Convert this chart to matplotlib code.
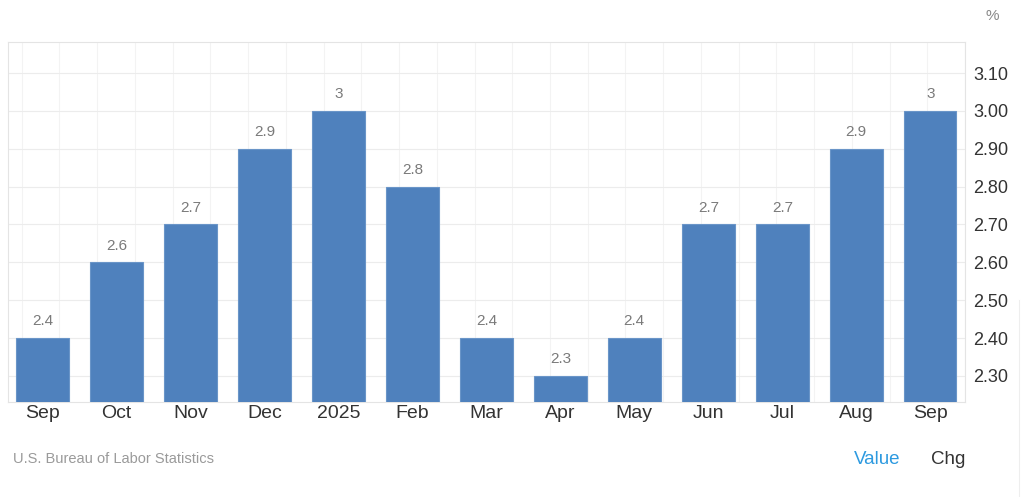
import matplotlib.pyplot as plt
import numpy as np

plt.rcParams['font.family'] = ['Liberation Sans', 'DejaVu Sans']

# data
months = ["Sep", "Oct", "Nov", "Dec", "2025", "Feb", "Mar", "Apr", "May", "Jun", "Jul", "Aug", "Sep"]
values = [2.4, 2.6, 2.7, 2.9, 3, 2.8, 2.4, 2.3, 2.4, 2.7, 2.7, 2.9, 3]
value_labels = ["2.4", "2.6", "2.7", "2.9", "3", "2.8", "2.4", "2.3", "2.4", "2.7", "2.7", "2.9", "3"]
yticks = [2.30, 2.40, 2.50, 2.60, 2.70, 2.80, 2.90, 3.00, 3.10]

bar_color = "#4f81bd"
grid_color = "#ececec"

fig = plt.figure(figsize=(10.24, 4.97), dpi=100)
ax = fig.add_axes([8 / 1024, 95 / 497, 957 / 1024, 360 / 497])

x = np.arange(len(months))
bars = ax.bar(x, values, width=0.71, color=bar_color, edgecolor="#6a95c8",
              linewidth=0.8, zorder=3)

for b, lab in zip(bars, value_labels):
    ax.annotate(lab, (b.get_x() + b.get_width() / 2, b.get_height()),
                xytext=(0, 7), textcoords="offset points",
                ha="center", va="bottom", fontsize=11, color="#7a7a7a")

ax.set_ylim(2.231, 3.182)
ax.set_xlim(-0.466, 12.46)

ax.set_yticks(yticks)
ax.set_yticklabels([f"{t:.2f}" for t in yticks])
ax.yaxis.tick_right()
ax.tick_params(axis="y", length=0, pad=6, labelsize=13, labelcolor="#333333")
ax.set_xticks(x)
ax.set_xticklabels(months)
ax.tick_params(axis="x", length=0, pad=2, labelsize=14, labelcolor="#333333")

# faint grid
ax.grid(axis="y", color=grid_color, linewidth=0.8, zorder=0)
ax.set_xticks(np.arange(-0.28, 12.5, 0.51), minor=True)
ax.tick_params(axis="x", which="minor", length=0)
ax.grid(axis="x", which="minor", color="#f3f3f3", linewidth=0.8, zorder=0)

for s in ax.spines.values():
    s.set_color("#e4e4e4")
    s.set_linewidth(0.8)

fig.text(992 / 1024, 1 - 16 / 497, "%", fontsize=11, color="#888888", ha="center", va="center")
fig.text(13 / 1024, 1 - 459 / 497, "U.S. Bureau of Labor Statistics", fontsize=10.5,
         color="#9a9a9a", ha="left", va="center")
fig.text(877 / 1024, 1 - 459 / 497, "Value", fontsize=13.5, color="#2d9ae0", ha="center", va="center")
fig.text(948 / 1024, 1 - 459 / 497, "Chg", fontsize=13.5, color="#333333", ha="center", va="center")
fig.add_artist(plt.Line2D([1019 / 1024, 1019 / 1024], [0, 197 / 497], color="#eeeeee", linewidth=0.8))

fig.savefig("out.png", dpi=100)
